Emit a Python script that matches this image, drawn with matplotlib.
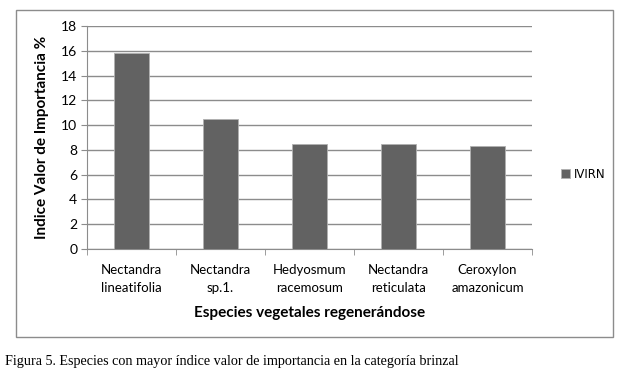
import matplotlib
matplotlib.use('Agg')
import matplotlib.pyplot as plt
from matplotlib.patches import Rectangle
import numpy as np

especies = ['Nectandra\nlineatifolia', 'Nectandra\nsp.1.', 'Hedyosmum\nracemosum',
            'Nectandra\nreticulata', 'Ceroxylon\namazonicum']
ivirn = [15.85, 10.5, 8.45, 8.45, 8.3]
yticks = np.arange(0, 19, 2)

W, H = 629, 386
fig = plt.figure(figsize=(W/100, H/100), dpi=100)

def fx(px): return px / W
def fy(py): return 1 - py / H

# marco exterior del grafico
fig.patches.append(Rectangle((fx(16), fy(337)), fx(613) - fx(16), fy(10) - fy(337),
                             transform=fig.transFigure, fill=False,
                             edgecolor='#8c8c8c', linewidth=1.0))

ax = fig.add_axes([fx(87), fy(249), fx(532) - fx(87), fy(26) - fy(249)])
x = np.arange(len(especies))
ax.bar(x, ivirn, width=0.4, color='#626262', edgecolor='#b0b0b0', linewidth=0.6,
       label='IVIRN', zorder=3)
ax.set_xlim(-0.5, len(especies) - 0.5)
ax.set_ylim(0, 18)
ax.set_yticks(yticks)
ax.yaxis.grid(True, color='#8c8c8c', linewidth=1.0, zorder=0)
for s in ['top', 'right']:
    ax.spines[s].set_visible(False)
for s in ['left', 'bottom']:
    ax.spines[s].set_color('#8c8c8c')
ax.tick_params(axis='y', length=4, color='#8c8c8c', labelsize=10, pad=3)
ax.set_xticks(x)
ax.set_xticklabels(especies, fontsize=9.5, linespacing=1.55, family='Lato')
ax.set_xticks(np.arange(-0.5, len(especies)), minor=True)
ax.tick_params(axis='x', which='major', length=0, pad=11)
ax.tick_params(axis='x', which='minor', length=4, color='#8c8c8c')
for lbl in ax.get_yticklabels():
    lbl.set_family('Lato')

ax.set_xlabel('Especies vegetales regenerándose', fontsize=11, fontweight='bold',
              family='Lato', labelpad=9)
ax.set_ylabel('Indice Valor de Importancia %', fontsize=11, fontweight='bold',
              family='Lato', labelpad=9)

ax.legend(loc='center left', bbox_to_anchor=(fx(550), fy(174)),
          bbox_transform=fig.transFigure, frameon=False,
          handlelength=0.8, handleheight=0.8, handletextpad=0.3,
          prop={'family': 'DejaVu Sans', 'size': 8.5})

fig.text(fx(5), fy(362), 'Figura 5. Especies con mayor índice valor de importancia en la categoría brinzal',
         fontsize=10.2, family='Liberation Serif', va='center', ha='left')

fig.savefig('out.png', dpi=100)
